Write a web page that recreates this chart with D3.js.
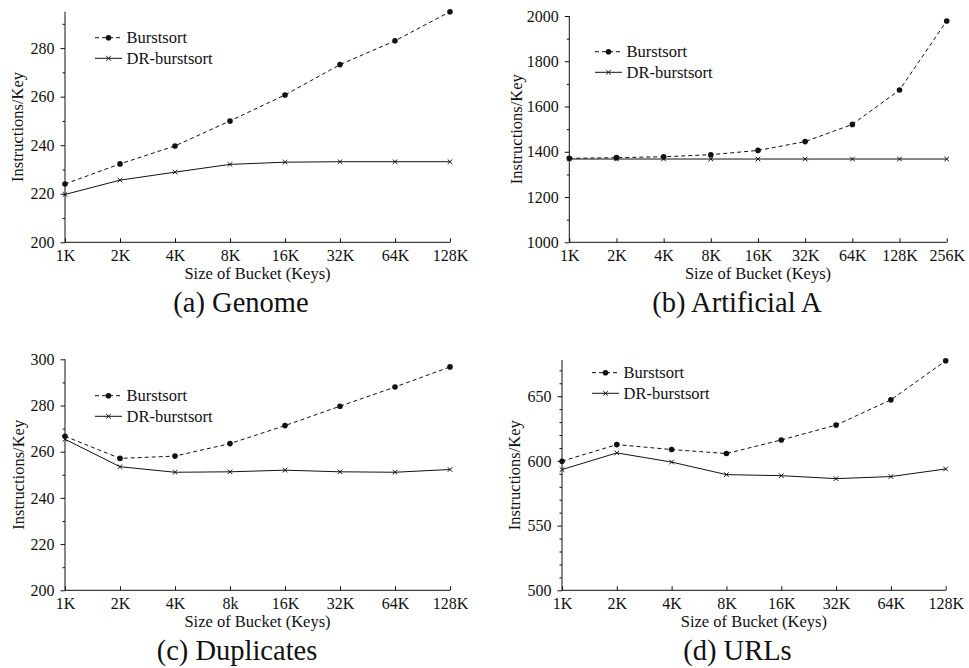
<!DOCTYPE html>
<html><head><meta charset="utf-8">
<script src="https://cdn.jsdelivr.net/npm/d3@7"></script>
<style>
html,body{margin:0;padding:0;background:#fff;}
svg{display:block;}
svg text{font-family:"Liberation Serif","Times New Roman",Times,"Nimbus Roman","DejaVu Serif",serif !important;fill:#111;}
</style></head>
<body>
<svg id="c" width="969" height="668"></svg>
<script>
// ---- data ----
const catsA = ["1K","2K","4K","8K","16K","32K","64K","128K"];
const burstA = [224, 232.3, 239.7, 250, 260.7, 273.2, 283, 295];
const drA    = [219.7, 225.6, 228.9, 232.1, 233, 233.2, 233.2, 233.2];
const yTicksA = [200, 220, 240, 260, 280];

const catsB = ["1K","2K","4K","8K","16K","32K","64K","128K","256K"];
const burstB = [1371, 1374, 1378, 1387, 1406, 1445, 1521, 1673, 1978];
const drB    = [1368, 1368, 1368, 1368, 1368, 1368, 1368, 1368, 1368];
const yTicksB = [1000, 1200, 1400, 1600, 1800, 2000];

const catsC = ["1K","2K","4K","8k","16K","32K","64K","128K"];
const burstC = [266.7, 257.1, 258.1, 263.5, 271.3, 279.7, 288, 296.7];
const drC    = [265.4, 253.5, 251.1, 251.3, 252.0, 251.3, 251.1, 252.3];
const yTicksC = [200, 220, 240, 260, 280, 300];

const catsD = ["1K","2K","4K","8K","16K","32K","64K","128K"];
const burstD = [599.8, 612.6, 608.8, 605.7, 616.2, 627.7, 647.2, 677.4];
const drD    = [593.3, 606.2, 599.1, 589.4, 588.6, 586.3, 587.9, 593.8];
const yTicksD = [500, 550, 600, 650];

const seriesNames = ["Burstsort", "DR-burstsort"];
const captions = ["(a) Genome", "(b) Artificial A", "(c) Duplicates", "(d) URLs"];
const xTitle = "Size of Bucket (Keys)";
const yTitle = "Instructions/Key";

// ---- layout ----
const panels = [
  {cats:catsA, b:burstA, d:drA, ticks:yTicksA, dom:[200,295], minor:10,
   x0:65, x1:450, yb:242.3, yt:11.7, ylx:18, legX:95, legY:37.7, capX:241, capY:312, cap:captions[0]},
  {cats:catsB, b:burstB, d:drB, ticks:yTicksB, dom:[1000,2000], minor:100,
   x0:569.3, x1:946.7, yb:242.3, yt:16, ylx:516.5, legX:595, legY:51.7, capX:737, capY:312, cap:captions[1]},
  {cats:catsC, b:burstC, d:drC, ticks:yTicksC, dom:[200,300], minor:10,
   x0:65, x1:450, yb:590.3, yt:359.3, ylx:18.5, legX:95, legY:395.7, capX:237, capY:660, cap:captions[2]},
  {cats:catsD, b:burstD, d:drD, ticks:yTicksD, dom:[500,678], minor:10,
   x0:562, x1:945.7, yb:590.3, yt:360, ylx:515, legX:592, legY:372.7, capX:737.5, capY:660, cap:captions[3]}
];

const svg = d3.select("#c");
const ink = "#111";
const FF = '"Liberation Serif","Times New Roman",Times,"Nimbus Roman","DejaVu Serif",serif';

function drawCircle(g, x, y){ g.append("circle").attr("cx",x).attr("cy",y).attr("r",2.8).attr("fill",ink); }
function drawCross(g, x, y){
  const s = 2.3;
  g.append("path").attr("d",`M${x-s},${y-s}L${x+s},${y+s}M${x-s},${y+s}L${x+s},${y-s}`)
    .attr("stroke",ink).attr("stroke-width",1).attr("fill","none");
}

panels.forEach(p => {
  const g = svg.append("g").attr("font-family", FF);
  const x = d3.scalePoint().domain(p.cats).range([p.x0, p.x1]).padding(0);
  const y = d3.scaleLinear().domain(p.dom).range([p.yb, p.yt]);

  // minor y ticks
  const minorVals = d3.range(p.dom[0], p.dom[1] + 1e-9, p.minor).filter(v => !p.ticks.includes(v));
  g.append("g").attr("transform",`translate(${p.x0},0)`)
    .call(d3.axisLeft(y).tickValues(minorVals).tickSize(2.5).tickFormat(""))
    .call(a => a.select(".domain").remove())
    .call(a => a.selectAll("line").attr("stroke",ink));

  // major y axis
  g.append("g").attr("transform",`translate(${p.x0},0)`)
    .call(d3.axisLeft(y).tickValues(p.ticks).tickFormat(d3.format("d")).tickSize(4.5).tickPadding(6).tickSizeOuter(0))
    .attr("font-family", FF)
    .call(a => a.select(".domain").attr("stroke",ink).attr("d",`M0,${p.yb}V${p.yt}`))
    .call(a => a.selectAll("line").attr("stroke",ink))
    .call(a => a.selectAll("text").attr("font-size",16).attr("fill",ink));

  // x axis
  g.append("g").attr("transform",`translate(0,${p.yb})`)
    .call(d3.axisBottom(x).tickSizeInner(-4).tickSizeOuter(0).tickPadding(7.5))
    .attr("font-family", FF)
    .call(a => a.select(".domain").attr("stroke",ink).attr("d",`M${p.x0},0H${p.x1}`))
    .call(a => a.selectAll("line").attr("stroke",ink))
    .call(a => a.selectAll("text").attr("font-size",16).attr("fill",ink));

  // lines
  const line = d3.line().x((d,i) => x(p.cats[i])).y(d => y(d));
  g.append("path").datum(p.b).attr("d", line).attr("fill","none")
    .attr("stroke",ink).attr("stroke-width",1).attr("stroke-dasharray","4,3");
  g.append("path").datum(p.d).attr("d", line).attr("fill","none")
    .attr("stroke",ink).attr("stroke-width",1);
  p.b.forEach((v,i) => drawCircle(g, x(p.cats[i]), y(v)));
  p.d.forEach((v,i) => drawCross(g, x(p.cats[i]), y(v)));

  // legend
  const lg = g.append("g");
  const L = 27;
  [0,1].forEach(k => {
    const yy = p.legY + k*20.6;
    lg.append("line").attr("x1",p.legX).attr("x2",p.legX+L).attr("y1",yy).attr("y2",yy)
      .attr("stroke",ink).attr("stroke-width",1).attr("stroke-dasharray", k===0 ? "4,3" : null);
    if(k===0) drawCircle(lg, p.legX+L/2, yy); else drawCross(lg, p.legX+L/2, yy);
    lg.append("text").attr("x", p.legX+L+4.5).attr("y", yy).attr("dy","0.33em")
      .attr("font-size",16.5).text(seriesNames[k]);
  });

  // axis titles
  g.append("text").attr("x",(p.x0+p.x1)/2).attr("y",p.yb+37).attr("text-anchor","middle")
    .attr("font-size",16.5).text(xTitle);
  g.append("text").attr("transform",`translate(${p.ylx},${(p.yb+p.yt)/2}) rotate(-90)`)
    .attr("text-anchor","middle").attr("dy","0.33em").attr("font-size",16.5).text(yTitle);

  // caption
  g.append("text").attr("x",p.capX).attr("y",p.capY).attr("text-anchor","middle")
    .attr("font-size",28.5).text(p.cap);
});
</script>
</body></html>
